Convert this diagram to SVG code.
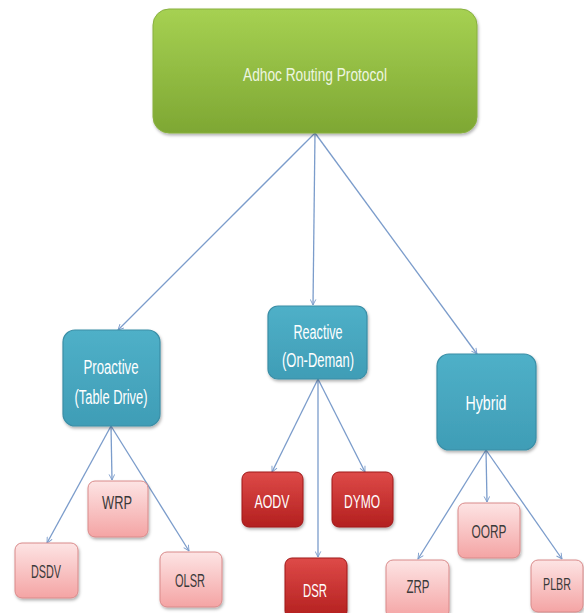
<svg xmlns="http://www.w3.org/2000/svg" width="584" height="613" viewBox="0 0 584 613">
<defs>
<linearGradient id="gGreen" x1="0" y1="0" x2="0" y2="1"><stop offset="0" stop-color="#a6d152"/><stop offset="1" stop-color="#7ea733"/></linearGradient>
<linearGradient id="gBlue" x1="0" y1="0" x2="0" y2="1"><stop offset="0" stop-color="#4fb0c8"/><stop offset="1" stop-color="#3f9db6"/></linearGradient>
<linearGradient id="gPink" x1="0" y1="0" x2="0" y2="1"><stop offset="0" stop-color="#fde4e4"/><stop offset="1" stop-color="#f4a4a4"/></linearGradient>
<linearGradient id="gRed" x1="0" y1="0" x2="0" y2="1"><stop offset="0" stop-color="#de4a48"/><stop offset="1" stop-color="#b3201f"/></linearGradient>
<filter id="sh" x="-10%" y="-10%" width="130%" height="130%"><feDropShadow dx="1" dy="2" stdDeviation="1.5" flood-color="#000" flood-opacity="0.3"/></filter>
<marker id="arr" viewBox="0 0 10 10" refX="9" refY="5" markerWidth="7" markerHeight="7" orient="auto-start-reverse" markerUnits="userSpaceOnUse"><path d="M1,1 L9,5 L1,9" fill="none" stroke="#7b9ccb" stroke-width="1.3"/></marker>
<style>
.c{stroke:#7b9ccb;stroke-width:1.3;fill:none;marker-end:url(#arr)}
.t{font-family:"Liberation Sans",Arial,sans-serif;text-anchor:middle}
.w{fill:#ffffff}
.wl{fill:#eef6e0}
.d{fill:#3a3a3a}
.green{fill:url(#gGreen);stroke:#88b03f;stroke-width:1}
.blue{fill:url(#gBlue);stroke:#3a8ea6;stroke-width:1.2}
.pink{fill:url(#gPink);stroke:#d98a8a;stroke-width:1}
.red{fill:url(#gRed);stroke:#a01818;stroke-width:1}
</style>
</defs>
<g id="connectors">
<line class="c" x1="315" y1="133" x2="118" y2="330"/>
<line class="c" x1="315" y1="133" x2="313" y2="305"/>
<line class="c" x1="315" y1="133" x2="477" y2="354"/>
<line class="c" x1="111" y1="426" x2="47" y2="543"/>
<line class="c" x1="111" y1="426" x2="112" y2="480"/>
<line class="c" x1="111" y1="426" x2="189" y2="551"/>
<line class="c" x1="318" y1="379" x2="272" y2="472"/>
<line class="c" x1="318" y1="379" x2="318" y2="557"/>
<line class="c" x1="318" y1="379" x2="365" y2="472"/>
<line class="c" x1="486" y1="450" x2="418" y2="559"/>
<line class="c" x1="486" y1="450" x2="487" y2="502"/>
<line class="c" x1="486" y1="450" x2="562" y2="559"/>
</g>
<g id="root">
<rect class="green" x="153" y="9" width="324" height="124" rx="16" filter="url(#sh)"/>
<text class="t wl" x="315" y="81" font-size="18" textLength="144" lengthAdjust="spacingAndGlyphs">Adhoc Routing  Protocol</text>
</g>
<g id="proactive">
<rect class="blue" x="63" y="330" width="97" height="96" rx="12" filter="url(#sh)"/>
<text class="t w" x="111" y="374" font-size="20" textLength="55" lengthAdjust="spacingAndGlyphs">Proactive</text>
<text class="t w" x="111" y="404" font-size="20" textLength="73" lengthAdjust="spacingAndGlyphs">(Table Drive)</text>
</g>
<g id="reactive">
<rect class="blue" x="268" y="306" width="99" height="73" rx="10" filter="url(#sh)"/>
<text class="t w" x="318" y="339" font-size="20" textLength="49" lengthAdjust="spacingAndGlyphs">Reactive</text>
<text class="t w" x="318" y="367" font-size="20" textLength="72" lengthAdjust="spacingAndGlyphs">(On-Deman)</text>
</g>
<g id="hybrid">
<rect class="blue" x="437" y="354" width="99" height="96" rx="12" filter="url(#sh)"/>
<text class="t w" x="486" y="410" font-size="20" textLength="41" lengthAdjust="spacingAndGlyphs">Hybrid</text>
</g>
<g id="dsdv">
<rect class="pink" x="15" y="543" width="63" height="55" rx="7" filter="url(#sh)"/>
<text class="t d" x="46" y="578" font-size="18" textLength="30" lengthAdjust="spacingAndGlyphs">DSDV</text>
</g>
<g id="wrp">
<rect class="pink" x="88" y="481" width="60" height="56" rx="7" filter="url(#sh)"/>
<text class="t d" x="117" y="509" font-size="18" textLength="30" lengthAdjust="spacingAndGlyphs">WRP</text>
</g>
<g id="olsr">
<rect class="pink" x="160" y="552" width="62" height="55" rx="7" filter="url(#sh)"/>
<text class="t d" x="190" y="587" font-size="18" textLength="30" lengthAdjust="spacingAndGlyphs">OLSR</text>
</g>
<g id="aodv">
<rect class="red" x="242" y="472" width="61" height="55" rx="7" filter="url(#sh)"/>
<text class="t w" x="272" y="508" font-size="18" textLength="35" lengthAdjust="spacingAndGlyphs">AODV</text>
</g>
<g id="dymo">
<rect class="red" x="332" y="472" width="61" height="55" rx="7" filter="url(#sh)"/>
<text class="t w" x="362" y="508" font-size="18" textLength="36" lengthAdjust="spacingAndGlyphs">DYMO</text>
</g>
<g id="dsr">
<rect class="red" x="285" y="558" width="62" height="60" rx="7" filter="url(#sh)"/>
<text class="t w" x="315" y="597" font-size="18" textLength="24" lengthAdjust="spacingAndGlyphs">DSR</text>
</g>
<g id="oorp">
<rect class="pink" x="458" y="503" width="62" height="55" rx="7" filter="url(#sh)"/>
<text class="t d" x="489" y="538" font-size="18" textLength="35" lengthAdjust="spacingAndGlyphs">OORP</text>
</g>
<g id="zrp">
<rect class="pink" x="386" y="560" width="63" height="58" rx="7" filter="url(#sh)"/>
<text class="t d" x="418" y="593" font-size="18" textLength="23" lengthAdjust="spacingAndGlyphs">ZRP</text>
</g>
<g id="plbr">
<rect class="pink" x="531" y="560" width="52" height="52" rx="7" filter="url(#sh)"/>
<text class="t d" x="557" y="590" font-size="16" textLength="28" lengthAdjust="spacingAndGlyphs">PLBR</text>
</g>
</svg>
